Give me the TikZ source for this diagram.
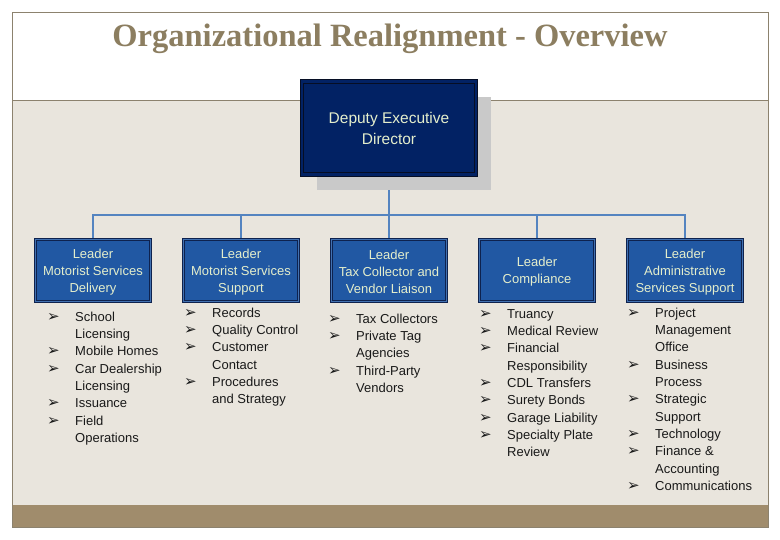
\documentclass[tikz,border=0pt]{standalone}
\usepackage{fontspec}
\setmainfont{Liberation Sans}
\newfontfamily\titlefont{Liberation Serif}
\newfontfamily\dingfont{DejaVu Sans}
\usetikzlibrary{positioning,backgrounds,shadows}
\definecolor{frameInk}{RGB}{140,130,110}
\definecolor{titleInk}{RGB}{140,126,96}
\definecolor{paneBg}{RGB}{233,229,221}
\definecolor{footBg}{RGB}{160,140,108}
\definecolor{navyBg}{RGB}{2,34,100}
\definecolor{navyInk}{RGB}{6,14,36}
\definecolor{leadBg}{RGB}{33,88,163}
\definecolor{leadInk}{RGB}{14,34,78}
\definecolor{paleTxt}{RGB}{228,238,204}
\definecolor{wireInk}{RGB}{84,132,192}
\definecolor{shadowBg}{RGB}{201,201,201}

\newcommand{\arrbul}{{\dingfont\fontsize{15}{15}\selectfont ➢}}
\newcommand{\duties}[1]{\fontsize{13}{17.3}\selectfont
  \begin{tabular}{@{}p{28pt}@{}l@{}}#1\end{tabular}}

\begin{document}
\begin{tikzpicture}[
  x=1pt, y=-1pt,
  title/.style={font=\titlefont\bfseries\fontsize{32.5}{36}\selectfont, text=titleInk},
  dep/.style  ={draw=navyInk, line width=.9pt, double=navyBg, double distance=2.4pt,
                fill=navyBg, text=paleTxt, align=center, inner sep=0pt,
                minimum width=174pt, minimum height=93pt,
                font=\fontsize{15.5}{21}\selectfont,
                drop shadow={shadow xshift=15pt, shadow yshift=-16pt, opacity=1, fill=shadowBg}},
  lead/.style ={draw=leadInk, line width=.8pt, double=leadBg!85!white, double distance=1.8pt,
                fill=leadBg, text=paleTxt, align=center, inner sep=0pt,
                minimum width=115pt, minimum height=62pt,
                font=\fontsize{13}{17}\selectfont},
  duty/.style ={anchor=north west, inner sep=0pt, text=black!90},
  wire/.style ={draw=wireInk, line width=1.2pt},
]
\useasboundingbox (0,0) rectangle (780,540);

% ================= TITLE =================
\node[title] (head) at (390,39) {Organizational Realignment - Overview};

% ================= TOP BOX =================
\node[dep] (deputy) at (389,128) {Deputy Executive\\Director};

% ================= LEADERS =================
\node[lead] (lead1) at (93,270.5)  {\strut Leader\\Motorist Services\\Delivery};
\node[lead] (lead2) at (241,270.5) {\strut Leader\\Motorist Services\\Support};
\node[lead] (lead3) at (389,270.5) {\strut Leader\\Tax Collector and\\Vendor Liaison};
\node[lead] (lead4) at (537,270.5) {\strut Leader\\Compliance};
\node[lead] (lead5) at (685,270.5) {\strut Leader\\Administrative\\Services Support};

% ================= DUTIES =================
\node[duty] (list1) at (47,309) {\duties{
  \arrbul & School\\ & Licensing\\
  \arrbul & Mobile Homes\\
  \arrbul & Car Dealership\\ & Licensing\\
  \arrbul & Issuance\\
  \arrbul & Field\\ & Operations}};
\node[duty] (list2) at (184,305) {\duties{
  \arrbul & Records\\
  \arrbul & Quality Control\\
  \arrbul & Customer\\ & Contact\\
  \arrbul & Procedures\\ & and Strategy}};
\node[duty] (list3) at (328,311) {\duties{
  \arrbul & Tax Collectors\\
  \arrbul & Private Tag\\ & Agencies\\
  \arrbul & Third-Party\\ & Vendors}};
\node[duty] (list4) at (479,306) {\duties{
  \arrbul & Truancy\\
  \arrbul & Medical Review\\
  \arrbul & Financial\\ & Responsibility\\
  \arrbul & CDL Transfers\\
  \arrbul & Surety Bonds\\
  \arrbul & Garage Liability\\
  \arrbul & Specialty Plate\\ & Review}};
\node[duty] (list5) at (627,305) {\duties{
  \arrbul & Project\\ & Management\\ & Office\\
  \arrbul & Business\\ & Process\\
  \arrbul & Strategic\\ & Support\\
  \arrbul & Technology\\
  \arrbul & Finance \&\\ & Accounting\\
  \arrbul & Communications}};

% ================= PANELS + WIRES =================
\begin{scope}[on background layer]
  \fill[white]  (12,12)  rectangle (768,100);
  \fill[paneBg] (12,100) rectangle (768,505);
  \fill[footBg] (12,505) rectangle (768,527);
  \draw[frameInk, line width=.8pt] (12,100) -- (768,100);
  \draw[frameInk, line width=.8pt] (12,12) rectangle (768,527);

  \coordinate (bus) at (389,215);
  \draw[wire] (deputy.south) -- (bus);
  \draw[wire] (lead1.north) |- (bus) -| (lead5.north);
  \draw[wire] (lead2.north) -- (lead2.north |- bus);
  \draw[wire] (lead3.north) -- (bus);
  \draw[wire] (lead4.north) -- (lead4.north |- bus);
\end{scope}

\end{tikzpicture}
\end{document}
